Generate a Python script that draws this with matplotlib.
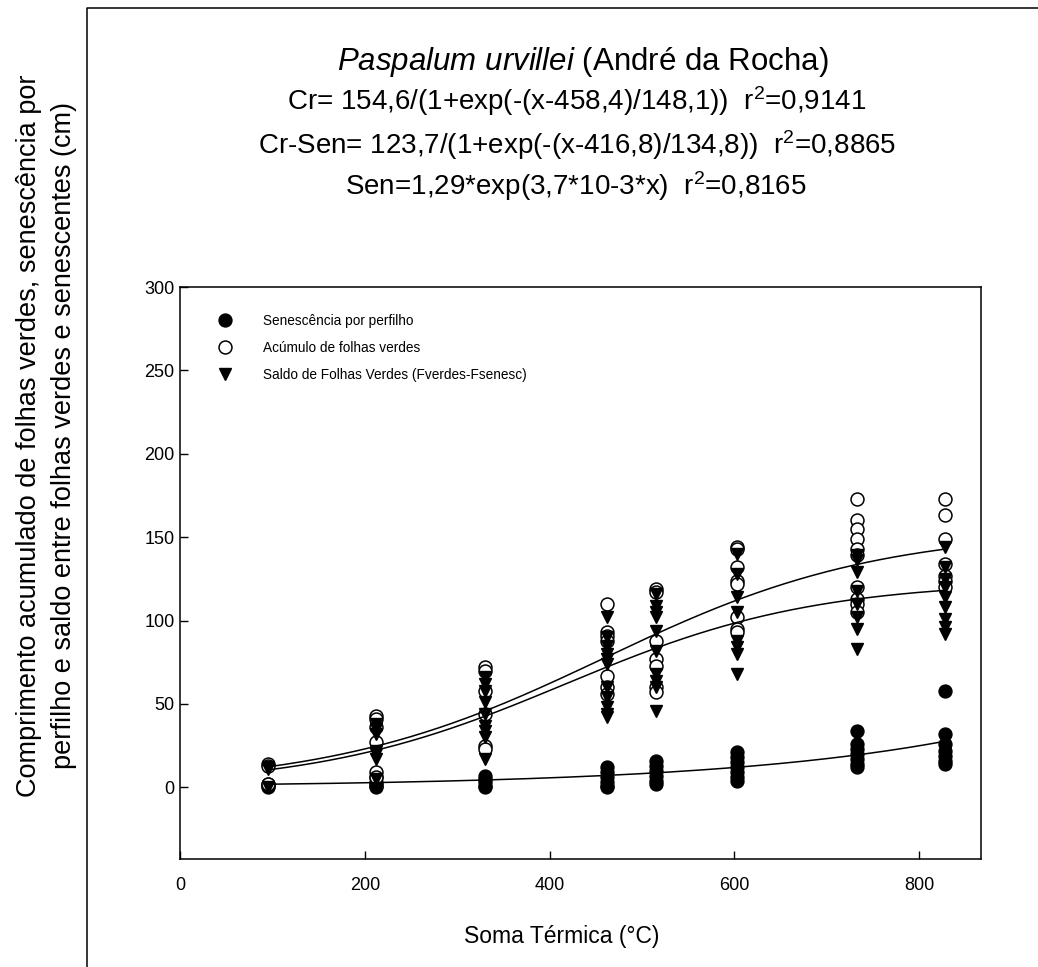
import numpy as np
import matplotlib
matplotlib.use("Agg")
import matplotlib.pyplot as plt
from matplotlib.lines import Line2D

plt.rcParams['font.family'] = ['Liberation Sans', 'DejaVu Sans']
plt.rcParams['mathtext.fontset'] = 'custom'
plt.rcParams['mathtext.rm'] = 'Liberation Sans'
plt.rcParams['mathtext.it'] = 'Liberation Sans:italic'

# soma termica de cada coleta
x_sen = [95]*3 + [212]*5 + [330]*5 + [462]*6 + [515]*6 + [603]*7 + [733]*7 + [828]*7
y_sen = [1, 0, 2,
         6, 3, 1, 0, 2,
         7, 5, 3, 1, 0,
         12, 9, 6, 3, 1, 0,
         16, 13, 10, 7, 4, 2,
         21, 18, 15, 12, 9, 6, 4,
         34, 26, 23, 20, 17, 14, 12,
         58, 32, 26, 22, 19, 16, 14]

x_cr = [95]*3 + [212]*6 + [330]*6 + [462]*7 + [515]*7 + [603]*8 + [733]*10 + [828]*7
y_cr = [14, 13, 2,
        43, 41, 36, 27, 9, 6,
        72, 70, 58, 44, 25, 23,
        110, 93, 91, 88, 67, 60, 56,
        119, 117, 88, 77, 73, 60, 57,
        144, 143, 132, 124, 122, 102, 95, 93,
        173, 160, 155, 149, 143, 139, 120, 113, 110, 105,
        173, 163, 149, 134, 127, 124, 120]

x_saldo = [95]*3 + [212]*7 + [330]*9 + [462]*11 + [515]*10 + [603]*8 + [733]*8 + [828]*9
y_saldo = [12, 11, 0,
           38, 35, 32, 22, 20, 17, 5,
           66, 62, 58, 51, 44, 37, 34, 30, 17,
           102, 90, 85, 80, 77, 74, 60, 54, 48, 44, 42,
           116, 109, 105, 102, 94, 82, 68, 64, 60, 46,
           140, 128, 114, 105, 88, 84, 80, 68,
           139, 136, 129, 118, 110, 102, 95, 83,
           144, 132, 125, 120, 114, 108, 101, 96, 92]

# curvas ajustadas (parametros do proprio grafico)
xc = np.linspace(95, 828, 200)
cr_fit = 154.6 / (1 + np.exp(-(xc - 458.4) / 148.1))
saldo_fit = 123.7 / (1 + np.exp(-(xc - 416.8) / 134.8))
sen_fit = 1.29 * np.exp(3.7e-3 * xc)

W, H = 1038, 967
fig = plt.figure(figsize=(W / 100, H / 100), dpi=100)
ax = fig.add_axes([180 / W, 1 - 859 / H, 801 / W, (859 - 287) / H])

ms = 9.3
ax.plot(x_sen, y_sen, 'o', color='black', ms=ms, ls='none', label='Senescência por perfilho', zorder=3)
ax.plot(x_cr, y_cr, 'o', mfc='white', mec='black', mew=1.1, ms=ms, ls='none',
        label='Acúmulo de folhas verdes', zorder=3)
ax.plot(x_saldo, y_saldo, 'v', color='black', ms=ms, ls='none',
        label='Saldo de Folhas Verdes (Fverdes-Fsenesc)', zorder=3)

for yc in (cr_fit, saldo_fit, sen_fit):
    ax.plot(xc, yc, color='black', lw=1.1, zorder=4)

ax.set_xlim(0, 867)
ax.set_ylim(-43, 300)
ax.set_xticks([0, 200, 400, 600, 800])
ax.set_yticks([0, 50, 100, 150, 200, 250, 300])
ax.tick_params(direction='in', length=6, width=1.0, labelsize=13)
ax.tick_params(axis='x', pad=13)
ax.tick_params(axis='y', pad=4)
for s in ax.spines.values():
    s.set_linewidth(1.1)

ax.legend(loc='upper left', bbox_to_anchor=(0.048, 0.953), frameon=False, fontsize=9.8,
          handlelength=1.0, handletextpad=2.25, labelspacing=0.95, borderpad=0, borderaxespad=0,
          markerscale=1.0)

fig.text(562 / W, 1 - 937 / H, 'Soma Térmica (°C)', ha='center', va='center', fontsize=16.5)
fig.text(47 / W, 1 - 436 / H,
         'Comprimento acumulado de folhas verdes, senescência por\n'
         'perfilho e saldo entre folhas verdes e senescentes (cm)',
         rotation=90, ha='center', va='center', multialignment='center',
         fontsize=19.5, linespacing=1.45)

fig.text(583 / W, 1 - 62 / H, r'$\mathit{Paspalum\ urvillei}$ (André da Rocha)',
         ha='center', va='center', fontsize=22.5)
fig.text(577 / W, 1 - 101 / H, 'Cr= 154,6/(1+exp(-(x-458,4)/148,1))  r$^2$=0,9141',
         ha='center', va='center', fontsize=20)
fig.text(577 / W, 1 - 145 / H, 'Cr-Sen= 123,7/(1+exp(-(x-416,8)/134,8))  r$^2$=0,8865',
         ha='center', va='center', fontsize=20)
fig.text(576 / W, 1 - 186 / H, 'Sen=1,29*exp(3,7*10-3*x)  r$^2$=0,8165',
         ha='center', va='center', fontsize=20)

# moldura externa
fig.add_artist(Line2D([87 / W, 87 / W, 1.01], [-0.01, 1 - 8 / H, 1 - 8 / H],
                      transform=fig.transFigure, color='black', lw=1.1))

fig.savefig('out.png', dpi=100)
